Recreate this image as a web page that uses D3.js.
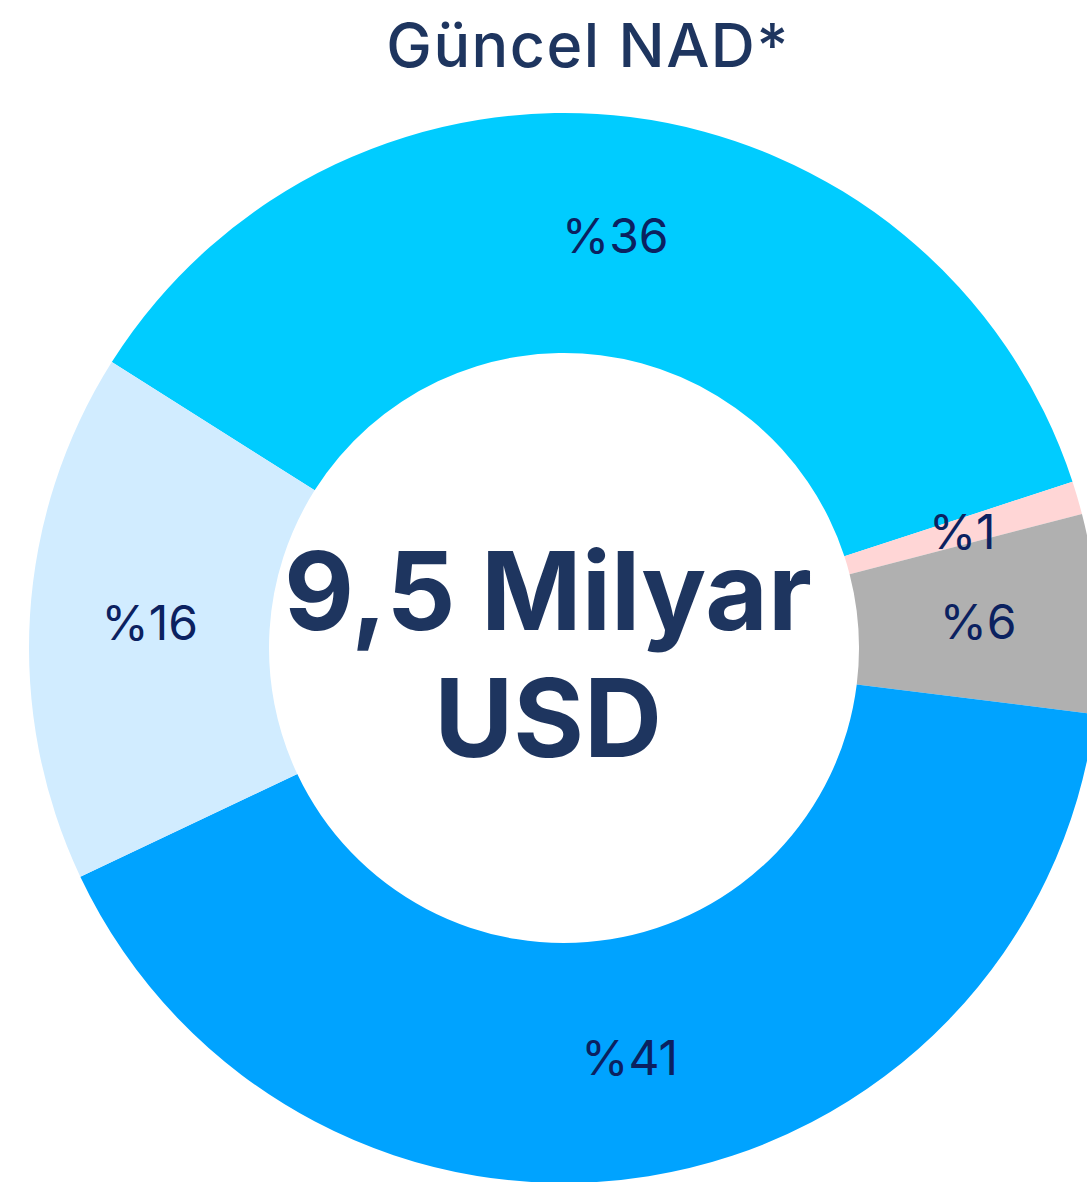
<!DOCTYPE html>
<html>
<head>
<meta charset="utf-8">
<script src="https://cdn.jsdelivr.net/npm/d3@7"></script>
<style>
  html, body { margin: 0; padding: 0; background: #fff; overflow: hidden; }
</style>
</head>
<body>
<div class="chart"></div>
<script>
var w = 1087,
    h = 1182;

// slices, clockwise starting from the upper-left boundary
var labels = ["%36", "%1", "%6", "%41", "%16"];
var values = [36, 1, 6, 41, 16];
var colors = ["#00ccff", "#ffd6d6", "#b0b0b0", "#00a3ff", "#d1ecff"];
var title = "Güncel NAD*";
var centerLines = ["9,5 Milyar", "USD"];

var cx = 564, cy = 648,
    outer = 535, inner = 295,
    start = -57.7 * Math.PI / 180;

var svg = d3.select(".chart").append("svg")
    .attr("width", w)
    .attr("height", h);

var pie = d3.pie().sort(null).value(function(d) { return d; })
    .startAngle(start).endAngle(start + 2 * Math.PI);
var arc = d3.arc().innerRadius(inner).outerRadius(outer);

var g = svg.append("g").attr("transform", "translate(" + cx + "," + cy + ")");
var arcs = pie(values);

g.selectAll("path").data(arcs).enter().append("path")
    .attr("d", arc)
    .attr("fill", function(d, i) { return colors[i]; });

g.selectAll("text.lbl").data(arcs).enter().append("text")
    .attr("class", "lbl")
    .attr("transform", function(d) { return "translate(" + arc.centroid(d) + ")"; })
    .attr("text-anchor", "middle")
    .attr("dy", "0.36em")
    .attr("font-family", "Inter, 'Open Sans', sans-serif")
    .attr("font-size", 48)
    .attr("fill", "#0b2160")
    .text(function(d, i) { return labels[i]; });

svg.append("text")
    .attr("x", 588).attr("y", 67)
    .attr("text-anchor", "middle")
    .attr("font-family", "Inter, 'Open Sans', sans-serif")
    .attr("font-weight", 500)
    .attr("font-size", 61)
    .attr("letter-spacing", 1.5)
    .attr("fill", "#1e355f")
    .text(title);

g.selectAll("text.center").data(centerLines).enter().append("text")
    .attr("class", "center")
    .attr("x", 548 - cx)
    .attr("y", function(d, i) { return (630 - cy) + i * 127; })
    .attr("text-anchor", "middle")
    .attr("font-family", "Inter, 'Open Sans', sans-serif")
    .attr("font-weight", 700)
    .attr("font-size", 108)
    .attr("fill", "#1e355f")
    .text(function(d) { return d; });
</script>
</body>
</html>
